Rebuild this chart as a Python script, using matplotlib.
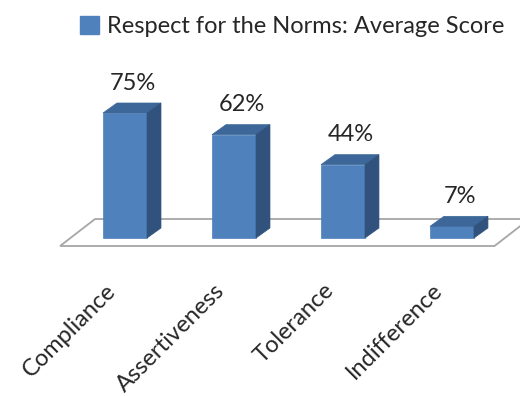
import matplotlib
matplotlib.use("Agg")
import matplotlib.pyplot as plt
from matplotlib.patches import Polygon, Patch

categories = ["Compliance", "Assertiveness", "Tolerance", "Indifference"]
values = [75, 62, 44, 7]
value_labels = ["75%", "62%", "44%", "7%"]
series_name = "Respect for the Norms: Average Score"

FRONT = "#4f81bd"
TOP = "#3c6798"
SIDE = "#30527d"
FLOOR_EDGE = "#a6a6a6"
TEXT = "#262626"
FONT = "Lato"
FS = 17

fig = plt.figure(figsize=(5.2, 3.96), dpi=100)
ax = fig.add_axes([0, 0, 1, 1])
ax.set_xlim(-1.147, 3.624)
ax.set_ylim(-94.8, 142.8)
ax.axis("off")

w = 0.404
dx, dy = 0.128, 6.0

# floor plate
floor = Polygon([(-0.596, -4.8), (3.39, -4.8), (3.71, 11.4), (-0.275, 11.4)],
                closed=True, facecolor="white", edgecolor=FLOOR_EDGE, lw=1.3, zorder=1)
ax.add_patch(floor)

x = list(range(len(categories)))
ax.bar(x, values, width=w, color=FRONT, edgecolor=FRONT, lw=0.5, zorder=3)
for i, v in zip(x, values):
    l, r = i - w / 2, i + w / 2
    ax.add_patch(Polygon([(l, v), (r, v), (r + dx, v + dy), (l + dx, v + dy)],
                         closed=True, facecolor=TOP, edgecolor=TOP, lw=0.5, zorder=3))
    ax.add_patch(Polygon([(r, 0), (r + dx, dy), (r + dx, v + dy), (r, v)],
                         closed=True, facecolor=SIDE, edgecolor=SIDE, lw=0.5, zorder=3))

for i, v, lab in zip(x, values, value_labels):
    ax.text(i + 0.07, v + dy + 12, lab, ha="center", va="center",
            fontsize=FS, family=FONT, color=TEXT, zorder=4)

for i, c in zip(x, categories):
    ax.text(i - 0.05, -25.0, c, rotation=45, ha="right", va="top",
            fontsize=FS, family=FONT, color=TEXT)

handle = Patch(facecolor=FRONT, edgecolor=FRONT)
fig.legend([handle], [series_name], loc="center", bbox_to_anchor=(0.5625, 0.934),
           frameon=False, handlelength=0.8, handleheight=0.8, handletextpad=0.35,
           prop={"family": FONT, "size": FS}, labelcolor=TEXT)

fig.savefig("out.png", dpi=100)
